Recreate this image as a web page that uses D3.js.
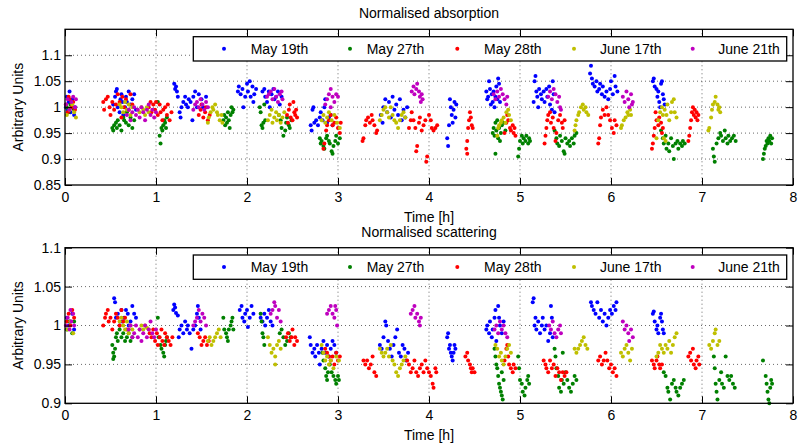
<!DOCTYPE html>
<html><head><meta charset="utf-8">
<script src="https://cdn.jsdelivr.net/npm/d3@7"></script>
<style>body{margin:0;background:#fff}svg{display:block}text{font-family:"Liberation Sans",Arial,sans-serif}</style>
</head><body><svg id="c" width="798" height="447"></svg>
<script>
const seriesNames = ["May 19th","May 27th","May 28th","June 17th","June 21th"];
const seriesColors = ["#0000ff","#008000","#ff0000","#bfbf00","#bf00bf"];
const xTicks = [0,1,2,3,4,5,6,7,8];
const yTicksAbs = [0.85,0.9,0.95,1,1.05,1.1];
const yTicksSca = [0.9,0.95,1,1.05,1.1];

const absBlue = [[0.01,1.0],[0.02,1.02],[0.03,0.995],[0.04,1.01],[0.05,1.03],[0.06,0.99],[0.07,1.005],[0.08,1.015],[0.09,0.998],[0.10,0.985],[0.11,1.0],
[0.53,1.005],[0.55,1.02],[0.56,1.03],[0.57,1.035],[0.58,1.0],[0.6,0.99],[0.61,1.015],[0.62,1.025],[0.63,1.01],[0.64,0.985],[0.66,1.0],[0.67,1.02],[0.68,1.01],[0.7,1.03],[0.72,1.005],[0.74,1.015],[0.76,1.025],[0.78,0.995],
[1.2,1.045],[1.21,1.035],[1.22,1.04],[1.23,1.03],[1.24,1.02],[1.26,0.99],[1.27,0.98],[1.28,1.0],[1.3,1.01],[1.32,1.02],[1.33,1.005],[1.35,1.0],[1.36,1.015],[1.38,1.01],[1.4,0.975],[1.41,1.02],[1.43,1.03],[1.45,1.0],[1.47,1.025],[1.5,1.015],[1.52,1.0],[1.55,1.02],
[1.9,1.03],[1.91,1.04],[1.93,1.025],[1.95,1.035],[1.96,1.0],[1.98,1.02],[2.0,1.045],[2.01,1.03],[2.03,1.05],[2.04,1.02],[2.06,1.04],[2.07,1.01],[2.08,1.025],[2.1,1.035],
[2.17,1.03],[2.19,1.035],[2.2,1.02],[2.22,1.01],[2.24,1.03],[2.25,1.0],[2.27,1.025],[2.29,1.035],[2.3,1.015],[2.32,1.02],[2.34,1.03],[2.36,1.005],[2.38,1.02],
[2.7,0.965],[2.71,0.955],[2.72,0.995],[2.73,1.0],[2.74,0.97],[2.76,0.975],[2.78,0.965],[2.8,0.98],[2.81,0.99],[2.83,0.975],[2.85,1.0],[2.86,1.015],[2.88,0.97],[2.9,0.98],[2.92,0.985],[2.94,0.965],
[3.47,0.985],[3.49,0.97],[3.5,1.0],[3.52,1.015],[3.54,0.99],[3.56,1.01],[3.58,0.98],[3.6,1.02],[3.62,0.995],[3.64,1.005],[3.66,0.985],[3.68,1.015],[3.7,0.975],[3.72,0.995],[3.74,0.98],[3.76,1.0],
[4.2,0.94],[4.21,0.925],[4.22,0.965],[4.23,1.015],[4.24,1.0],[4.25,0.985],[4.26,0.97],[4.27,0.995],[4.28,1.01],[4.29,0.98],[4.3,1.005],
[4.63,1.03],[4.64,1.015],[4.65,1.02],[4.66,1.05],[4.67,1.035],[4.68,1.005],[4.69,1.025],[4.7,1.01],[4.71,1.03],[4.72,1.0],[4.73,1.02],[4.74,1.04],[4.75,1.015],[4.76,1.055],[4.77,1.045],[4.78,1.01],
[5.15,1.01],[5.16,1.05],[5.17,1.06],[5.18,1.03],[5.19,1.02],[5.2,1.0],[5.21,1.035],[5.23,1.025],[5.24,1.015],[5.26,1.03],[5.27,1.01],[5.29,1.035],[5.3,1.02],[5.32,1.04],[5.33,1.005],[5.35,0.995],[5.36,1.05],[5.37,1.025],[5.38,0.99],
[5.77,1.065],[5.78,1.08],[5.79,1.055],[5.8,1.045],[5.82,1.04],[5.84,1.05],[5.85,1.03],[5.87,1.035],[5.88,1.045],[5.9,1.025],[5.91,1.04],[5.93,1.02],[5.95,1.03],[5.97,1.015],[5.99,1.035],[6.0,1.05],[6.02,1.025],[6.04,1.06],[6.05,1.04],[6.07,1.03],
[6.46,1.05],[6.47,1.055],[6.48,1.04],[6.5,1.035],[6.51,1.02],[6.52,1.03],[6.53,1.01],[6.54,1.0],[6.55,1.045],[6.56,1.05],[6.57,1.025],[6.58,1.015],[6.59,1.005]];

const absGreen = [[0.02,1.0],[0.04,0.99],[0.06,1.005],[0.08,1.01],[0.1,0.995],
[0.52,0.96],[0.53,0.955],[0.54,0.965],[0.56,0.97],[0.57,0.96],[0.58,0.975],[0.6,0.965],[0.62,0.955],[0.64,0.98],[0.65,0.975],[0.67,0.97],[0.68,0.99],[0.7,0.965],[0.72,0.98],[0.74,0.96],[0.76,0.975],
[1.02,1.01],[1.04,0.945],[1.05,0.93],[1.06,0.96],[1.07,0.955],[1.08,0.965],[1.09,0.975],[1.1,0.97],[1.11,0.96],[1.12,0.98],
[1.74,0.975],[1.75,0.985],[1.76,0.965],[1.77,0.98],[1.78,0.97],[1.79,0.99],[1.8,0.975],[1.81,0.96],[1.82,0.985],[1.83,1.0],[1.84,0.99],[1.85,0.995],
[2.14,1.0],[2.15,0.99],[2.16,0.965],[2.17,0.96],[2.18,0.97],[2.19,1.005],[2.2,0.975],
[2.35,0.985],[2.37,0.975],[2.38,0.96],[2.4,0.945],[2.42,0.955],[2.43,0.97],[2.44,0.98],[2.46,0.965],[2.47,0.96],[2.49,0.975],
[2.8,0.94],[2.81,0.93],[2.82,0.935],[2.84,0.925],[2.85,0.92],[2.87,0.94],[2.88,0.945],[2.9,0.935],[2.91,0.93],[2.93,0.915],[2.94,0.91],[2.95,0.925],[2.97,0.935],[2.98,0.945],[3.0,0.93],[3.02,0.94],
[4.7,0.95],[4.71,0.96],[4.72,0.945],[4.73,0.97],[4.74,0.955],[4.75,0.975],[4.76,0.94],[4.77,0.96],[4.78,0.935],[4.79,0.95],[4.8,0.965],[4.82,0.97],[4.84,0.955],[4.73,0.91],
[4.98,0.905],[4.99,0.92],[5.0,0.935],[5.02,0.945],[5.03,0.93],[5.04,0.94],[5.06,0.935],[5.07,0.945],[5.09,0.93],[5.1,0.94],[5.11,0.935],
[5.38,0.955],[5.4,0.94],[5.41,0.93],[5.43,0.925],[5.44,0.945],[5.46,0.935],[5.48,0.915],[5.49,0.91],[5.5,0.94],[5.52,0.93],[5.54,0.935],[5.55,0.925],[5.57,0.94],[5.59,0.93],[5.6,0.945],[5.62,0.95],
[6.55,0.955],[6.57,0.94],[6.58,0.93],[6.6,0.945],[6.61,0.92],[6.63,0.93],[6.64,0.915],[6.66,0.94],[6.68,0.925],[6.69,0.9],[6.71,0.93],[6.73,0.935],[6.74,0.92],[6.76,0.93],[6.78,0.925],[6.79,0.935],[6.81,0.93],
[7.12,0.92],[7.13,0.905],[7.14,0.895],[7.16,0.93],[7.18,0.94],[7.2,0.95],[7.21,0.945],[7.23,0.935],[7.25,0.955],[7.26,0.94],[7.28,0.93],[7.29,0.945],[7.31,0.935],[7.33,0.94],[7.35,0.945],[7.37,0.935],
[7.67,0.9],[7.68,0.91],[7.69,0.92],[7.7,0.925],[7.71,0.935],[7.72,0.93],[7.73,0.94],[7.74,0.935],[7.75,0.945],[7.76,0.93],[7.77,0.94]];

const absRed = [[0.01,1.005],[0.03,0.99],[0.05,1.015],[0.07,1.0],[0.09,1.01],[0.11,0.995],[0.04,1.02],
[0.42,1.01],[0.43,0.995],[0.45,1.015],[0.47,1.02],[0.49,1.0],[0.5,0.985],[0.52,1.01],[0.54,0.995],[0.56,1.005],[0.58,1.025],[0.6,1.01],[0.62,0.98],[0.63,1.02],[0.65,1.0],[0.67,1.015],[0.7,0.995],[0.72,1.025],[0.74,1.005],
[0.92,1.0],[0.94,1.01],[0.95,0.99],[0.97,1.005],[0.99,0.995],[1.0,1.01],[1.02,0.985],[1.04,1.005],[1.05,0.99],[1.07,0.975],[1.08,0.995],[1.1,1.0],[1.12,0.985],[1.13,1.005],[1.15,0.975],[1.17,0.99],
[1.47,0.985],[1.49,0.995],[1.5,1.005],[1.52,0.98],[1.54,0.99],[1.55,1.0],[1.57,0.975],[1.59,0.985],
[2.44,0.985],[2.45,0.97],[2.46,0.995],[2.47,1.005],[2.48,0.98],[2.5,0.975],[2.51,1.01],[2.52,0.99],[2.53,0.985],[2.54,0.995],[2.55,0.98],
[2.84,0.92],[2.85,0.93],[2.87,0.955],[2.88,0.965],[2.9,0.975],[2.92,0.985],[2.94,0.965],[2.96,0.97],[2.98,0.98],[3.0,0.96],[3.02,0.95],[3.03,0.97],
[3.27,0.935],[3.28,0.94],[3.3,0.965],[3.31,0.975],[3.33,0.98],[3.35,0.97],[3.37,0.985],[3.38,0.975],[3.4,0.965],[3.42,0.95],[3.43,0.955],
[3.78,0.96],[3.8,0.975],[3.81,0.99],[3.83,0.975],[3.85,0.96],[3.86,0.915],[3.87,0.925],[3.89,0.97],[3.9,0.98],[3.92,0.955],[3.94,0.965],[3.96,0.975],[3.97,0.895],[3.98,0.905],[4.0,0.985],[4.02,0.975],[4.03,0.96],[4.05,0.955],[4.07,0.96],[4.09,0.965],
[4.41,0.92],[4.42,0.91],[4.42,0.935],[4.43,0.96],[4.44,0.975],[4.45,0.99],[4.46,0.98],[4.47,0.965],[4.48,0.96],
[4.83,0.95],[4.85,0.97],[4.86,0.985],[4.87,0.975],[4.89,0.96],[4.9,0.955],[4.92,0.965],[4.93,0.95],[4.94,0.96],[4.95,0.945],
[5.27,0.93],[5.28,0.945],[5.29,0.96],[5.3,0.975],[5.31,0.985],[5.33,0.99],[5.34,0.97],[5.36,0.98],[5.37,0.96],[5.39,0.935],[5.4,0.95],[5.42,0.975],[5.44,0.985],[5.46,0.97],[5.47,0.96],[5.49,0.975],
[5.86,0.93],[5.87,0.94],[5.88,0.965],[5.89,0.98],[5.91,0.995],[5.93,0.985],[5.95,1.0],[5.97,0.985],[5.99,0.975],[6.01,0.96],[6.03,0.95],[6.04,0.975],[6.06,0.965],
[6.45,0.92],[6.46,0.93],[6.47,0.945],[6.48,0.96],[6.49,0.99],[6.5,0.975],[6.52,0.965],[6.53,0.98],[6.55,0.97],[6.56,0.95],[6.57,0.96],
[6.85,0.935],[6.86,0.945],[6.87,0.96],[6.88,0.975],[6.89,0.99],[6.9,1.0],[6.91,0.985],[6.92,0.995],[6.93,0.98],[6.94,0.99],[6.95,0.975],[6.96,0.985]];

const absYellow = [[0.02,0.985],[0.05,0.995],[0.08,1.005],[0.1,0.99],[0.12,0.98],
[0.6,1.005],[0.62,1.0],[0.64,0.99],[0.66,1.01],[0.68,0.995],[0.7,1.005],[0.72,0.985],[0.74,1.0],
[0.82,0.99],[0.84,1.0],[0.86,0.995],[0.88,0.985],[0.9,1.0],[0.92,0.99],
[1.57,0.97],[1.58,0.98],[1.6,0.99],[1.62,1.0],[1.63,0.995],[1.65,1.005],[1.67,0.99],[1.68,0.985],[1.7,0.975],[1.72,0.985],[1.73,0.97],
[2.23,0.975],[2.25,0.985],[2.27,0.995],[2.28,0.97],[2.3,0.98],[2.32,0.99],[2.33,0.975],[2.35,0.985],[2.37,0.97],[2.39,0.98],[2.41,0.99],
[2.82,0.975],[2.84,0.985],[2.86,0.97],[2.88,0.98],[2.9,0.99],[2.93,0.975],[2.96,0.985],[2.99,0.97],[3.02,0.96],
[3.46,0.975],[3.48,0.985],[3.5,0.995],[3.52,1.0],[3.54,0.99],[3.56,0.98],[3.58,1.0],[3.6,0.985],[3.62,0.975],[3.64,0.97],[3.66,0.96],[3.68,0.975],[3.7,0.985],[3.72,0.99],[3.74,0.98],
[4.75,0.945],[4.76,0.96],[4.77,0.965],[4.79,0.97],[4.8,0.975],[4.82,0.98],[4.84,0.97],[4.85,0.99],[4.87,0.995],[4.88,0.985],[4.9,0.975],
[5.6,0.955],[5.61,0.965],[5.62,0.975],[5.64,0.985],[5.65,0.99],[5.67,1.0],[5.69,1.005],[5.7,0.995],[5.72,1.0],[5.73,0.99],[5.75,0.985],
[6.11,0.96],[6.12,0.965],[6.14,0.975],[6.16,0.98],[6.18,0.99],[6.19,0.985],[6.21,0.995],[6.22,0.985],
[6.5,0.94],[6.52,0.975],[6.54,0.99],[6.56,1.0],[6.57,0.985],[6.59,0.995],[6.61,0.985],[6.62,1.005],[6.64,0.975],[6.66,0.99],[6.67,1.01],[6.69,1.015],[6.7,0.99],[6.72,0.98],[6.58,0.94],[6.6,0.935],
[7.07,0.955],[7.08,0.96],[7.1,0.98],[7.11,0.995],[7.12,1.005],[7.14,1.01],[7.15,1.02],[7.17,1.005],[7.18,0.995],[7.19,1.0],[7.2,0.99]];

const absMagenta = [[0.01,1.005],[0.03,1.015],[0.05,0.995],[0.07,1.01],[0.09,1.02],[0.11,1.0],[0.12,1.015],
[0.68,0.985],[0.7,0.995],[0.72,0.975],[0.74,0.99],[0.76,1.0],[0.78,0.985],[0.8,0.995],[0.82,0.98],[0.84,1.0],[0.86,0.99],[0.88,0.975],[0.9,0.995],[0.92,1.005],[0.94,0.985],[0.96,0.995],[0.98,0.98],[1.0,0.99],
[1.41,0.995],[1.43,1.005],[1.45,1.01],[1.47,1.0],[1.49,1.015],[1.51,1.005],[1.53,0.995],[1.55,1.01],[1.57,1.0],
[2.22,1.02],[2.24,1.025],[2.26,1.03],[2.28,1.015],[2.3,1.035],[2.32,1.02],[2.34,1.01],[2.36,1.025],[2.38,1.03],[2.39,1.015],
[2.86,1.005],[2.88,1.015],[2.9,1.025],[2.92,1.035],[2.94,1.02],[2.96,1.01],[2.98,1.025],[3.0,1.02],[2.92,1.0],
[3.81,1.03],[3.83,1.04],[3.84,1.025],[3.86,1.035],[3.87,1.045],[3.89,1.03],[3.9,1.02],[3.91,1.01],[3.92,1.025],[3.93,1.015],
[4.71,1.025],[4.73,1.015],[4.75,1.03],[4.77,1.02],[4.79,1.035],[4.81,1.025],[4.83,1.015],[4.85,1.005],[4.86,1.02],
[5.31,1.02],[5.33,1.03],[5.35,1.015],[5.37,1.035],[5.39,1.025],[5.41,1.01],[5.43,1.02],[5.44,1.0],[5.45,0.995],
[6.13,1.02],[6.15,1.01],[6.17,1.03],[6.19,1.015],[6.2,1.0],[6.22,1.025],[6.23,1.005],[6.24,1.01]];

const scaBlue = [[0.02,1.01],[0.04,1.0],[0.06,1.005],[0.08,1.015],[0.1,0.995],
[0.54,1.035],[0.55,1.03],[0.56,1.01],[0.58,1.015],[0.6,1.0],[0.62,1.02],[0.63,1.005],[0.65,1.01],[0.67,1.02],[0.69,1.015],[0.7,1.0],[0.72,1.005],[0.74,1.025],[0.76,1.015],[0.78,1.01],
[1.19,1.02],[1.2,1.027],[1.21,1.023],[1.22,1.016],[1.24,1.013],
[1.25,0.985],[1.26,0.995],[1.28,1.0],[1.3,0.99],[1.32,1.005],[1.34,0.995],[1.35,1.0],[1.37,0.99],[1.39,0.97],[1.41,0.995],[1.43,1.0],[1.45,1.015],[1.46,1.025],[1.47,1.01],[1.49,0.995],
[1.92,1.02],[1.94,1.025],[1.95,1.01],[1.97,1.005],[1.98,1.015],[2.0,1.02],[2.01,0.998],[2.03,1.01],[2.05,1.025],[2.07,1.015],
[2.15,1.01],[2.17,1.005],[2.19,1.015],[2.2,1.0],[2.22,1.01],[2.24,1.02],[2.26,1.005],[2.28,1.0],
[2.69,0.985],[2.7,0.975],[2.72,0.965],[2.74,0.97],[2.75,0.96],[2.77,0.975],[2.79,0.965],[2.8,0.95],[2.82,0.97],[2.84,0.98],[2.86,0.965],[2.88,0.975],[2.9,0.96],[2.92,0.97],[2.94,0.98],[2.96,0.975],[2.98,0.965],
[3.46,0.975],[3.48,0.97],[3.5,0.985],[3.52,1.005],[3.53,1.0],[3.55,0.98],[3.57,0.97],[3.59,0.96],[3.61,0.975],[3.63,0.985],[3.65,0.995],[3.67,0.965],[3.69,0.96],[3.71,0.975],[3.73,0.97],[3.75,0.955],[3.77,0.965],
[4.2,0.985],[4.21,0.99],[4.22,0.97],[4.23,0.975],[4.24,0.965],[4.25,0.96],[4.26,0.955],[4.27,0.965],[4.28,0.975],[4.29,0.97],
[4.63,0.995],[4.64,1.0],[4.66,0.99],[4.67,1.005],[4.69,0.985],[4.7,0.995],[4.72,1.01],[4.73,1.02],[4.74,0.98],[4.76,1.025],[4.77,1.01],[4.78,1.0],[4.8,0.99],[4.82,1.005],
[5.14,1.03],[5.15,1.035],[5.16,1.0],[5.17,1.01],[5.18,0.995],[5.2,1.005],[5.22,0.99],[5.24,1.0],[5.25,1.01],[5.27,0.995],[5.29,1.0],[5.31,0.98],[5.33,0.99],[5.34,1.025],[5.35,1.01],[5.36,0.985],
[5.78,1.03],[5.79,1.025],[5.81,1.02],[5.83,1.015],[5.85,1.03],[5.87,1.01],[5.89,1.02],[5.91,1.005],[5.93,1.015],[5.95,1.0],[5.97,1.01],[5.99,1.02],[6.01,1.015],[6.03,1.025],[6.05,1.02],[6.06,1.03],
[6.46,1.015],[6.47,1.018],[6.48,1.005],[6.5,0.995],[6.51,1.0],[6.52,0.99],[6.54,1.01],[6.55,1.015],[6.56,1.005],[6.57,0.995],[6.58,0.99]];

const scaGreen = [[0.02,0.995],[0.05,1.005],[0.08,0.99],[0.1,1.005],
[0.52,0.975],[0.53,0.965],[0.54,0.96],[0.55,0.97],[0.56,0.985],[0.57,0.99],[0.58,0.98],[0.6,0.995],[0.62,0.985],[0.64,0.99],[0.66,0.98],[0.68,0.985],[0.7,0.99],[0.72,0.98],[0.74,0.985],[0.53,0.957],
[1.02,1.01],[1.03,0.985],[1.05,0.975],[1.06,0.97],[1.08,0.965],[1.09,0.96],[1.1,0.975],[1.11,0.98],[1.12,0.985],
[1.74,1.01],[1.75,0.995],[1.77,0.99],[1.78,0.985],[1.79,0.98],[1.8,0.995],[1.82,1.0],[1.83,1.005],[1.84,1.01],[1.85,0.995],
[2.15,1.015],[2.16,1.005],[2.17,0.99],[2.18,0.985],[2.19,0.975],
[2.36,0.99],[2.38,0.995],[2.4,0.985],[2.42,0.975],[2.44,0.98],[2.46,0.99],[2.48,0.985],
[2.83,0.965],[2.84,0.955],[2.86,0.945],[2.87,0.935],[2.88,0.93],[2.89,0.94],[2.91,0.95],[2.93,0.94],[2.95,0.935],[2.97,0.93],[2.98,0.925],[3.0,0.935],[3.01,0.93],
[4.72,0.97],[4.73,0.96],[4.74,0.95],[4.75,0.945],[4.76,0.935],[4.77,0.925],[4.78,0.92],[4.79,0.915],[4.8,0.91],[4.81,0.905],[4.82,0.93],[4.8,0.94],
[4.98,0.96],[4.99,0.945],[5.0,0.93],[5.02,0.925],[5.03,0.915],[5.05,0.91],[5.06,0.92],[5.08,0.93],[5.09,0.935],[5.1,0.925],
[5.38,0.97],[5.39,0.96],[5.4,0.945],[5.42,0.935],[5.43,0.92],[5.45,0.915],[5.46,0.93],[5.48,0.925],[5.5,0.94],[5.52,0.93],[5.54,0.92],[5.56,0.915],[5.58,0.925],[5.6,0.935],[5.62,0.93],[5.47,0.965],
[6.58,0.94],[6.6,0.935],[6.62,0.92],[6.63,0.915],[6.65,0.905],[6.67,0.925],[6.69,0.93],[6.71,0.92],[6.72,0.915],[6.74,0.91],[6.76,0.92],[6.78,0.925],[6.8,0.93],
[7.13,0.96],[7.14,0.945],[7.15,0.925],[7.16,0.915],[7.17,0.905],[7.19,0.93],[7.21,0.94],[7.22,0.925],[7.24,0.92],[7.26,0.96],[7.28,0.935],[7.3,0.93],[7.32,0.935],[7.34,0.925],[7.36,0.92],
[7.67,0.955],[7.7,0.935],[7.71,0.925],[7.72,0.915],[7.73,0.905],[7.74,0.9],[7.75,0.92],[7.76,0.93],[7.77,0.925]];

const scaRed = [[0.02,1.005],[0.04,1.015],[0.06,1.0],[0.08,1.02],[0.1,1.01],
[0.42,1.0],[0.44,1.01],[0.45,1.015],[0.47,1.02],[0.48,1.005],[0.5,1.01],[0.52,0.995],[0.54,1.005],[0.56,1.015],[0.58,1.01],[0.6,1.0],[0.62,1.02],[0.64,1.005],[0.66,1.01],[0.68,0.995],
[0.93,0.99],[0.95,0.985],[0.97,0.995],[0.99,0.98],[1.01,0.99],[1.02,0.975],[1.04,0.985],[1.06,0.995],[1.07,0.98],[1.09,0.975],[1.1,0.99],[1.12,0.985],[1.14,0.98],[1.16,0.975],[1.18,0.985],
[1.46,0.99],[1.48,0.985],[1.5,0.975],[1.52,0.98],[1.54,0.985],[1.56,0.975],[1.58,0.98],
[2.43,0.985],[2.45,0.99],[2.47,0.98],[2.49,0.985],[2.5,0.995],[2.52,0.975],[2.53,0.985],[2.55,0.98],
[2.86,0.97],[2.88,0.965],[2.9,0.96],[2.92,0.955],[2.94,0.96],[2.96,0.95],[2.98,0.965],[3.0,0.955],[3.02,0.96],
[3.28,0.955],[3.3,0.95],[3.32,0.955],[3.34,0.945],[3.36,0.95],[3.38,0.96],[3.4,0.94],[3.42,0.935],
[3.76,0.955],[3.78,0.95],[3.8,0.94],[3.82,0.945],[3.84,0.955],[3.86,0.94],[3.88,0.935],[3.9,0.945],[3.92,0.95],[3.94,0.94],[3.96,0.955],[3.98,0.945],[4.0,0.94],[4.02,0.935],[4.04,0.925],[4.05,0.92],[4.07,0.945],[4.08,0.94],
[4.4,0.96],[4.42,0.965],[4.43,0.955],[4.45,0.95],[4.46,0.945],[4.47,0.94],[4.48,0.945],[4.5,0.94],
[4.83,0.955],[4.85,0.97],[4.86,0.975],[4.87,0.96],[4.88,0.95],[4.9,0.945],[4.92,0.94],[4.93,0.95],[4.95,0.945],
[5.26,0.955],[5.28,0.95],[5.29,0.945],[5.31,0.94],[5.33,0.955],[5.35,0.945],[5.37,0.95],[5.39,0.935],[5.41,0.945],[5.43,0.94],[5.45,0.93],[5.47,0.94],[5.49,0.935],[5.51,0.94],
[5.86,0.955],[5.88,0.96],[5.9,0.95],[5.92,0.955],[5.94,0.965],[5.96,0.955],[5.98,0.945],[6.0,0.95],[6.02,0.94],[6.04,0.945],[6.06,0.935],
[6.45,0.955],[6.47,0.95],[6.48,0.945],[6.5,0.955],[6.51,0.96],[6.53,0.95],[6.54,0.945],[6.56,0.95],
[6.85,0.96],[6.87,0.965],[6.88,0.955],[6.9,0.97],[6.91,0.95],[6.93,0.945],[6.94,0.955],[6.96,0.96],[6.97,0.95]];

const scaYellow = [[0.03,0.995],[0.06,1.005],[0.09,0.99],
[0.6,1.005],[0.62,1.01],[0.64,1.0],[0.66,0.995],[0.68,1.005],[0.7,0.99],[0.72,1.0],[0.74,0.995],
[0.82,0.995],[0.84,1.0],[0.86,0.995],[0.88,1.0],[0.9,0.997],[0.92,0.995],
[1.57,0.98],[1.59,0.985],[1.61,0.975],[1.63,0.98],[1.65,0.985],[1.67,0.99],[1.69,0.995],[1.71,0.985],
[2.23,0.985],[2.25,0.975],[2.27,0.965],[2.29,0.97],[2.31,0.96],[2.33,0.975],[2.35,0.98],[2.37,0.97],[2.31,0.95],
[2.82,0.975],[2.84,0.965],[2.86,0.955],[2.88,0.96],[2.9,0.95],[2.92,0.955],[2.95,0.945],[2.98,0.96],[3.01,0.955],
[3.46,0.97],[3.48,0.965],[3.5,0.96],[3.52,0.965],[3.54,0.97],[3.56,0.96],[3.58,0.975],[3.6,0.955],[3.62,0.95],[3.64,0.94],[3.66,0.935],[3.68,0.945],[3.7,0.95],[3.72,0.955],[3.74,0.96],
[4.73,0.975],[4.75,0.97],[4.77,0.96],[4.79,0.965],[4.8,0.955],[4.82,0.95],[4.84,0.96],[4.86,0.97],[4.88,0.975],[4.9,0.965],
[5.6,0.97],[5.62,0.965],[5.64,0.97],[5.66,0.975],[5.68,0.98],[5.7,0.985],[5.72,0.975],[5.74,0.97],
[6.11,0.965],[6.13,0.96],[6.15,0.97],[6.17,0.975],[6.19,0.965],[6.21,0.955],[6.23,0.97],
[6.5,0.96],[6.52,0.965],[6.54,0.975],[6.56,0.97],[6.58,0.965],[6.6,0.975],[6.62,0.97],[6.64,0.98],[6.66,0.965],[6.68,0.975],[6.7,0.985],[6.72,0.99],
[7.08,0.975],[7.1,0.97],[7.12,0.98],[7.14,0.99],[7.15,0.995],[7.17,0.975],[7.19,0.98]];

const scaMagenta = [[0.01,1.0],[0.03,1.01],[0.05,0.995],[0.07,1.005],[0.09,1.015],[0.1,1.0],[0.06,1.02],
[0.7,0.995],[0.72,1.0],[0.74,0.985],[0.76,0.99],[0.78,1.0],[0.8,0.985],[0.82,0.995],[0.84,0.98],[0.86,0.99],[0.88,1.0],[0.9,0.985],[0.92,0.995],[0.94,1.005],[0.96,0.99],[0.98,0.985],[1.0,0.995],
[1.41,1.0],[1.43,1.005],[1.45,1.01],[1.47,1.02],[1.49,1.005],[1.51,1.015],[1.53,1.01],[1.55,1.0],
[2.26,1.015],[2.28,1.02],[2.3,1.03],[2.31,1.025],[2.33,1.01],[2.35,1.02],[2.37,1.005],
[2.88,1.015],[2.9,1.02],[2.92,1.025],[2.94,1.015],[2.96,1.01],[2.98,1.02],[2.99,1.0],[2.97,1.025],
[3.8,1.015],[3.82,1.02],[3.84,1.025],[3.85,1.01],[3.87,1.015],[3.89,1.005],[3.9,1.0],[3.91,1.01],
[4.72,0.995],[4.74,1.0],[4.76,0.99],[4.78,1.005],[4.8,0.995],[4.82,1.0],[4.84,0.99],[4.86,0.985],
[5.32,1.0],[5.34,0.995],[5.36,1.005],[5.38,0.99],[5.4,0.985],[5.42,0.995],[5.44,1.0],[5.45,0.99],
[6.13,1.005],[6.15,0.995],[6.17,1.0],[6.19,0.99],[6.2,0.98],[6.22,0.995],[6.24,0.985]];

const panels = [
  {title:"Normalised absorption", series:[absBlue,absGreen,absRed,absYellow,absMagenta], yDomain:[0.85,1.15], yTicks:yTicksAbs, top:29.3, bottom:185, legendY:36.7},
  {title:"Normalised scattering", series:[scaBlue,scaGreen,scaRed,scaYellow,scaMagenta], yDomain:[0.9,1.1], yTicks:yTicksSca, top:247.7, bottom:403.3, legendY:255}
];

const svg = d3.select("#c");
const L = 65, R = 793;
const fs = 14;

panels.forEach(p => {
  const x = d3.scaleLinear().domain([0,8]).range([L,R]);
  const y = d3.scaleLinear().domain(p.yDomain).range([p.bottom,p.top]);
  const g = svg.append("g");
  g.append("g").selectAll("line").data(xTicks.slice(1,-1)).join("line")
    .attr("x1",d=>x(d)).attr("x2",d=>x(d)).attr("y1",p.top).attr("y2",p.bottom)
    .attr("stroke","#444").attr("stroke-width",0.8).attr("stroke-dasharray","1,3");
  g.append("g").selectAll("line").data(p.yTicks.filter(v=>v>p.yDomain[0]+1e-9 && v<p.yDomain[1]-1e-9)).join("line")
    .attr("x1",L).attr("x2",R).attr("y1",d=>y(d)).attr("y2",d=>y(d))
    .attr("stroke","#444").attr("stroke-width",0.8).attr("stroke-dasharray","1,3");
  p.series.forEach((s,i) => {
    g.append("g").selectAll("circle").data(s).join("circle")
      .attr("cx",d=>x(d[0])).attr("cy",d=>y(d[1])).attr("r",2)
      .attr("fill",seriesColors[i]);
  });
  const ax = g.append("g").attr("transform",`translate(0,${p.bottom})`)
    .call(d3.axisBottom(x).tickValues(xTicks).tickFormat(d3.format("d")).tickSize(-7).tickPadding(7));
  const ay = g.append("g").attr("transform",`translate(${L},0)`)
    .call(d3.axisLeft(y).tickValues(p.yTicks).tickFormat(d=>String(d)).tickSize(-7).tickPadding(4));
  const at = g.append("g").attr("transform",`translate(0,${p.top})`)
    .call(d3.axisTop(x).tickValues(xTicks).tickFormat("").tickSize(-7));
  const ar = g.append("g").attr("transform",`translate(${R},0)`)
    .call(d3.axisRight(y).tickValues(p.yTicks).tickFormat("").tickSize(-7));
  [ax,ay,at,ar].forEach(a => {
    a.select(".domain").remove();
    a.selectAll("line").attr("stroke","#000");
    a.selectAll("text").attr("font-size",fs).attr("fill","#000").attr("font-family","'Liberation Sans',Arial,sans-serif");
  });
  g.append("rect").attr("x",L).attr("y",p.top).attr("width",R-L).attr("height",p.bottom-p.top)
    .attr("fill","none").attr("stroke","#000").attr("stroke-width",1.3);
  g.append("text").attr("x",(L+R)/2).attr("y",p.top-11).attr("text-anchor","middle").attr("font-size",fs).text(p.title);
  g.append("text").attr("x",(L+R)/2).attr("y",p.bottom+37).attr("text-anchor","middle").attr("font-size",fs).text("Time [h]");
  g.append("text").attr("transform",`translate(23,${(p.top+p.bottom)/2}) rotate(-90)`).attr("text-anchor","middle").attr("font-size",fs).text("Arbitrary Units");
  const lg = g.append("g");
  lg.append("rect").attr("x",193.3).attr("y",p.legendY).attr("width",593.4).attr("height",24.3)
    .attr("fill","#fff").attr("stroke","#000").attr("stroke-width",1.3);
  const dotX = [224,350,457.3,574,692.7];
  const txtX = [250.7,366.7,484,600,718.3];
  seriesNames.forEach((n,i) => {
    lg.append("circle").attr("cx",dotX[i]).attr("cy",p.legendY+12).attr("r",2).attr("fill",seriesColors[i]);
    lg.append("text").attr("x",txtX[i]).attr("y",p.legendY+17.3).attr("font-size",fs).text(n);
  });
});
</script></body></html>
